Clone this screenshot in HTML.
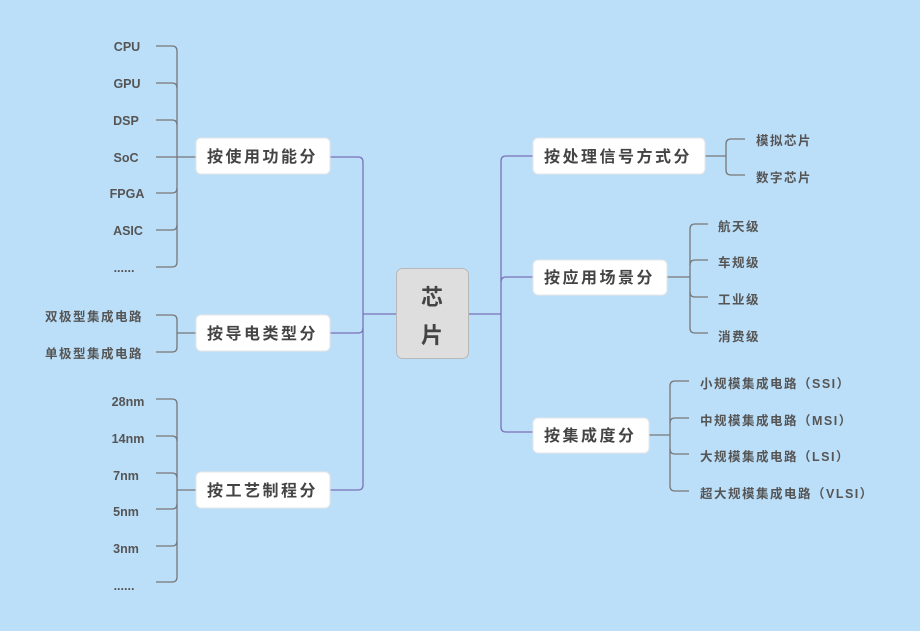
<!DOCTYPE html>
<html><head><meta charset="utf-8"><style>
html,body{margin:0;padding:0;background:#bcdff9;}
svg{display:block}
text{font-family:"Liberation Sans","Noto Sans CJK SC",sans-serif;font-weight:bold;fill:#555;}
.b{font-size:16px;fill:#444;letter-spacing:2.5px}
.l{font-size:12.5px;letter-spacing:1.5px}
.e{font-size:12.5px}
</style></head><body>
<svg width="920" height="631" viewBox="0 0 920 631" xmlns="http://www.w3.org/2000/svg">
<rect width="920" height="631" fill="#bcdff9"/>
<g fill="none" stroke="#7a72b6" stroke-width="1.3">
<path d="M330 157 H358 Q363 157 363 162 V485 Q363 490 358 490 H330"/>
<path d="M330 333 H358 Q363 333 363 328"/>
<path d="M363 314 H396"/>
<path d="M468 314 H501"/>
<path d="M533 156 H506 Q501 156 501 161 V427 Q501 432 506 432 H533"/>
<path d="M533 277 H506 Q501 277 501 282"/>
</g>
<g fill="none" stroke="#777" stroke-width="1.3">
<path d="M156 46 H172 Q177 46 177 51 V262 Q177 267 172 267 H156"/>
<path d="M156 83 H172 Q177 83 177 88"/><path d="M156 120 H172 Q177 120 177 125"/>
<path d="M156 157 H196"/><path d="M156 193 H172 Q177 193 177 188"/><path d="M156 230 H172 Q177 230 177 225"/>
<path d="M156 315 H172 Q177 315 177 320 V347 Q177 352 172 352 H156"/><path d="M177 333 H196"/>
<path d="M156 399 H172 Q177 399 177 404 V577 Q177 582 172 582 H156"/>
<path d="M156 436 H172 Q177 436 177 441"/><path d="M156 473 H172 Q177 473 177 478"/>
<path d="M156 509 H172 Q177 509 177 504"/><path d="M156 546 H172 Q177 546 177 541"/><path d="M177 490 H196"/>
<path d="M705 156 H726"/><path d="M745 139 H731 Q726 139 726 144 V170 Q726 175 731 175 H745"/>
<path d="M667 277 H690"/><path d="M708 224 H695 Q690 224 690 229 V328 Q690 333 695 333 H708"/>
<path d="M708 260 H695 Q690 260 690 265"/><path d="M708 297 H695 Q690 297 690 292"/>
<path d="M649 435 H670"/><path d="M689 381 H675 Q670 381 670 386 V486 Q670 491 675 491 H689"/>
<path d="M689 418 H675 Q670 418 670 423"/><path d="M689 454 H675 Q670 454 670 449"/>
</g>
<rect x="396.5" y="268.5" width="72" height="90" rx="6" fill="#dedede" stroke="#b8b8b8"/>
<text x="432" y="305" text-anchor="middle" style="font-size:22px;fill:#444">芯</text>
<text x="432" y="343" text-anchor="middle" style="font-size:22px;fill:#444">片</text>
<g fill="#fff" stroke="#e6e6e6">
<rect x="196" y="138" width="134" height="36" rx="5"/>
<rect x="196" y="315" width="134" height="36" rx="5"/>
<rect x="196" y="472" width="134" height="36" rx="5"/>
<rect x="533" y="138" width="172" height="36" rx="5"/>
<rect x="533" y="260" width="134" height="35" rx="5"/>
<rect x="533" y="418" width="116" height="35" rx="5"/>
</g>
<text class="b" x="207" y="162">按使用功能分</text>
<text class="b" x="207" y="339">按导电类型分</text>
<text class="b" x="207" y="496">按工艺制程分</text>
<text class="b" x="544" y="162">按处理信号方式分</text>
<text class="b" x="544" y="283">按应用场景分</text>
<text class="b" x="544" y="441">按集成度分</text>
<g class="e" text-anchor="middle">
<text class="e" x="127" y="51">CPU</text><text class="e" x="127" y="88">GPU</text>
<text class="e" x="126" y="125">DSP</text><text class="e" x="126" y="162">SoC</text>
<text class="e" x="127" y="198">FPGA</text><text class="e" x="128" y="235">ASIC</text>
<text class="e" x="124" y="272">......</text>
<text class="e" x="128" y="406">28nm</text><text class="e" x="128" y="443">14nm</text>
<text class="e" x="126" y="480">7nm</text><text class="e" x="126" y="516">5nm</text>
<text class="e" x="126" y="553">3nm</text><text class="e" x="124" y="590">......</text>
</g>
<text class="l" x="45" y="321">双极型集成电路</text>
<text class="l" x="45" y="358">单极型集成电路</text>
<text class="l" x="756" y="145">模拟芯片</text>
<text class="l" x="756" y="182">数字芯片</text>
<text class="l" x="718" y="231">航天级</text>
<text class="l" x="718" y="267">车规级</text>
<text class="l" x="718" y="304">工业级</text>
<text class="l" x="718" y="341">消费级</text>
<text class="l" x="700" y="388">小规模集成电路（SSI）</text>
<text class="l" x="700" y="425">中规模集成电路（MSI）</text>
<text class="l" x="700" y="461">大规模集成电路（LSI）</text>
<text class="l" x="700" y="498">超大规模集成电路（VLSI）</text>
</svg>
</body></html>
